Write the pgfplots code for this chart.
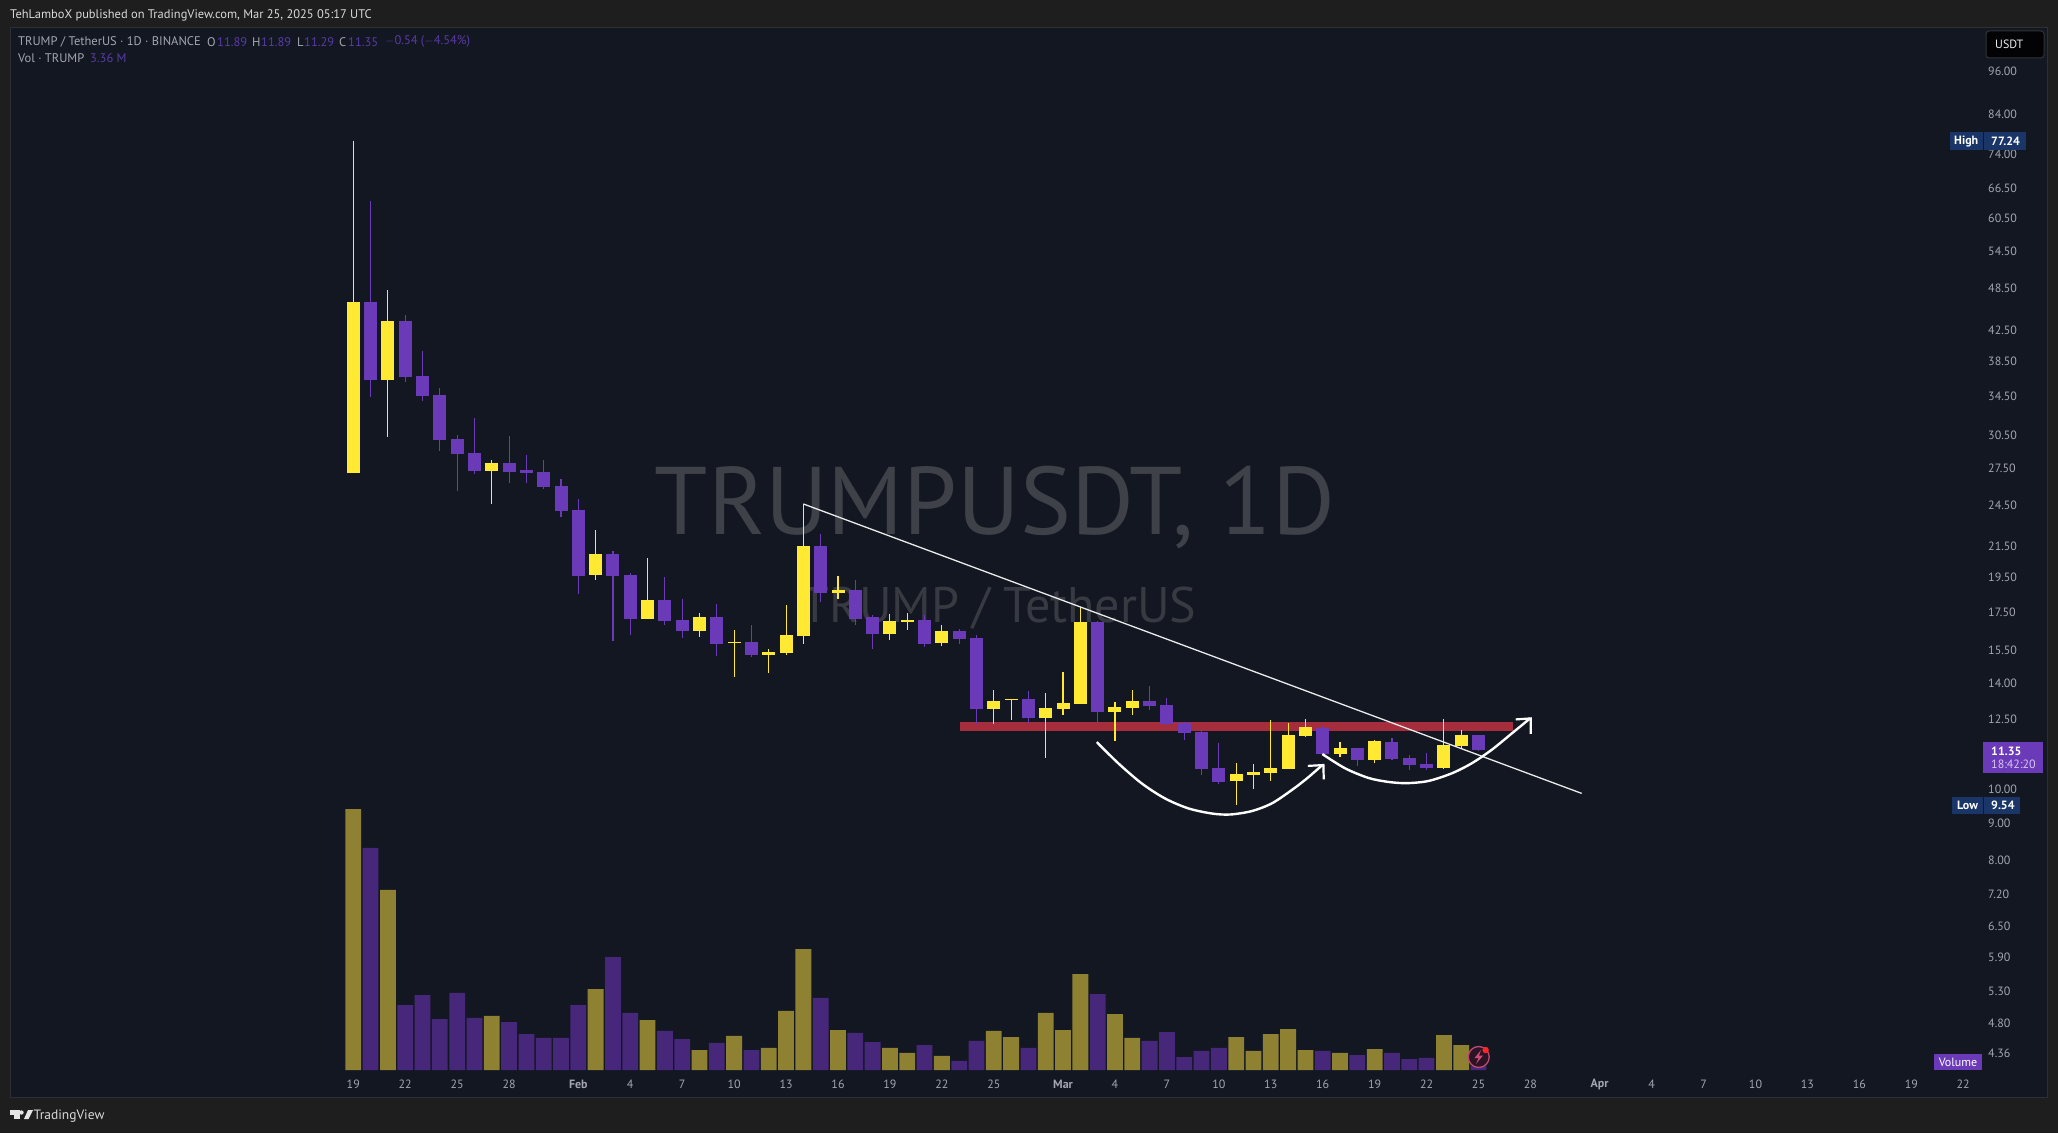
\documentclass[border=0pt]{standalone}
\usepackage{fontspec}
\setmainfont{PT Sans}
\usepackage{pgfplots}
\usepackage{pgfplotstable}
\pgfplotsset{compat=1.18}
\definecolor{outer}{HTML}{1E1E1E}
\definecolor{pane}{HTML}{121722}
\definecolor{edge}{HTML}{2E2F33}
\definecolor{cyel}{HTML}{FFE933}
\definecolor{cpur}{HTML}{6B3AB8}
\definecolor{vyel}{HTML}{8E8132}
\definecolor{vpur}{HTML}{47277A}
\definecolor{band}{HTML}{A52D3C}
\definecolor{tick}{HTML}{A3A6AE}
\definecolor{mark1}{HTML}{3F4148}
\definecolor{mark2}{HTML}{383A42}
\definecolor{legv}{HTML}{5A3AA6}
\definecolor{navy}{HTML}{1A3668}
\definecolor{lilac}{HTML}{D9C4F5}

% d = days after 19 Jan; t/b = body top and bottom, h/l = high and low
\pgfplotstableread{
d t b h l
0 46.48 27.15 77.24 27.15
2 43.77 36.35 48.27 30.41
8 27.99 27.29 28.26 24.62
14 21.01 19.67 22.67 19.36
17 18.18 17.12 20.75 17.12
20 17.23 16.49 17.45 16.18
22 15.93 15.86 16.54 14.28
24 15.43 15.29 15.58 14.46
25 16.28 15.39 17.87 15.31
26 21.55 16.23 24.60 15.83
28 18.76 18.58 19.60 18.24
31 17.02 16.33 17.40 16.03
32 17.07 16.96 17.45 16.54
34 16.49 15.88 16.81 15.73
37 13.23 12.90 13.69 12.31
38 13.31 13.27 13.31 12.44
40 12.94 12.54 13.56 11.05
41 13.14 12.90 14.49 12.66
42 16.96 13.10 17.78 13.10
44 12.98 12.78 13.18 11.66
45 13.23 12.94 13.69 12.66
51 10.51 10.28 10.88 9.54
52 10.57 10.47 10.85 10.02
53 10.71 10.54 12.46 10.28
54 11.88 10.67 12.34 10.67
55 12.18 11.84 12.50 11.81
57 11.41 11.20 11.63 11.09
59 11.66 10.98 11.70 10.88
63 11.52 10.71 12.50 10.67
64 11.88 11.48 12.07 11.41
}\upcandles
\pgfplotstableread{
d t b h l
1 46.48 36.35 63.83 34.43
3 43.77 36.70 44.61 36.12
4 36.81 34.57 39.87 34.03
5 34.68 30.10 35.45 29.04
6 30.20 28.82 30.58 25.65
7 28.89 27.29 32.29 27.06
9 27.99 27.21 30.49 26.31
10 27.38 27.12 28.73 26.31
11 27.21 25.95 28.26 25.81
12 26.03 24.09 26.64 23.61
13 24.14 19.62 24.99 18.53
15 21.01 19.62 21.21 15.96
16 19.67 17.12 19.79 16.27
18 18.18 17.02 19.52 16.79
19 17.07 16.49 18.25 16.13
21 17.23 15.83 17.95 15.25
23 15.93 15.29 16.81 15.21
27 21.55 18.58 22.39 18.07
29 18.76 17.10 19.36 16.81
30 17.23 16.33 17.35 15.58
33 17.07 15.83 17.35 15.69
35 16.49 16.08 16.59 15.83
36 16.13 12.90 16.28 12.31
39 13.31 12.54 13.65 12.34
43 16.96 12.78 17.02 12.34
46 13.23 13.02 13.87 12.86
47 13.06 12.31 13.35 12.27
48 12.34 11.96 12.38 11.70
49 11.99 10.67 12.07 10.47
50 10.71 10.25 11.59 10.18
56 12.15 11.20 12.22 11.20
58 11.41 10.98 11.41 10.78
60 11.63 11.02 11.77 10.98
61 11.05 10.81 11.16 10.64
62 10.85 10.71 11.23 10.64
65 11.89 11.35 11.89 11.29
}\downcandles
% volume, in millions
\pgfplotstableread{
d v
0 219.2
2 151.2
8 45.4
14 68.0
17 42.0
20 16.8
22 28.6
24 18.5
25 49.6
26 101.6
28 33.6
31 18.5
32 14.3
34 11.8
37 32.8
38 27.7
40 47.9
41 33.6
42 80.6
44 47.0
45 26.9
51 27.7
52 16.0
53 30.2
54 34.4
55 16.8
57 14.3
59 17.6
63 29.4
64 21.0
}\upvol
\pgfplotstableread{
d v
1 186.5
3 54.6
4 63.0
5 42.8
6 64.7
7 43.7
9 40.3
10 30.2
11 26.9
12 26.9
13 54.6
15 94.9
16 47.9
18 32.8
19 26.0
21 22.7
23 16.8
27 60.5
29 31.1
30 23.5
33 21.0
35 7.6
36 24.4
39 18.5
43 63.8
46 24.4
47 31.9
48 10.9
49 16.0
50 18.5
56 16.0
58 12.6
60 14.3
61 9.2
62 10.1
65 3.36
}\downvol

\begin{document}
\begin{tikzpicture}[x=1pt,y=1pt]
\path[use as bounding box,fill=outer] (0,0) rectangle (2058,1133);
\fill[pane] (10,36) rectangle (2047,1106);
% watermark
\node[text=mark1,font=\fontsize{96}{96}\selectfont,inner sep=0] at (995,626) {TRUMPUSDT, 1D};
\node[text=mark2,font=\fontsize{50}{50}\selectfont,inner sep=0] at (999,525) {TRUMP / TetherUS};

% volume pane
\begin{axis}[at={(10pt,36pt)},anchor=south west,scale only axis,width=2037pt,height=1070pt,
  xmin=-19.83,xmax=97.84,ymin=-22.68,ymax=876.12,hide axis]
\addplot[ybar,bar width=15.8pt,bar shift=0pt,fill=vyel,draw=none] table[x=d,y=v]{\upvol};
\addplot[ybar,bar width=15.8pt,bar shift=0pt,fill=vpur,draw=none] table[x=d,y=v]{\downvol};
\end{axis}

% price pane
\begin{axis}[at={(10pt,36pt)},anchor=south west,scale only axis,width=2037pt,height=1070pt,
  xmin=-19.83,xmax=97.84,ymode=log,ymin=3.80,ymax=110.5,
  axis line style={draw=edge},
  major tick length=0pt,minor tick length=0pt,
  xtick={0,3,6,9,13,16,19,22,25,28,31,34,37,41,44,47,50,53,56,59,62,65,68,72,75,78,81,84,87,90,93},
  xticklabels={19,22,25,28,\textbf{Feb},4,7,10,13,16,19,22,25,\textbf{Mar},4,7,10,13,16,19,22,25,28,\textbf{Apr},4,7,10,13,16,19,22},
  xticklabel style={anchor=center,yshift=13pt,text=tick,font=\fontsize{12}{12}\selectfont},
  ytick={96,84,74,66.5,60.5,54.5,48.5,42.5,38.5,34.5,30.5,27.5,24.5,21.5,19.5,17.5,15.5,14,12.5,10,9,8,7.2,6.5,5.9,5.3,4.8,4.36},
  yticklabels={96.00,84.00,74.00,66.50,60.50,54.50,48.50,42.50,38.50,34.50,30.50,27.50,24.50,21.50,19.50,17.50,15.50,14.00,12.50,10.00,9.00,8.00,7.20,6.50,5.90,5.30,4.80,4.36},
  yticklabel pos=right,
  yticklabel style={anchor=west,xshift=-59pt,inner sep=0pt,text=tick,font=\fontsize{12}{12}\selectfont},
  wick/.style={draw=none,mark=none,error bars/.cd,y dir=minus,y explicit,error mark=none,
     error bar style={draw=#1,line width=1.1pt}},
  body/.style={draw=none,mark=none,error bars/.cd,y dir=minus,y explicit,error mark=none,
     error bar style={draw=#1,line width=13pt}},
]
\addplot[band,line width=9pt] coordinates {(35.05,12.21)(67.0,12.21)};
\addplot[wick=cyel] table[x=d,y=h,y error minus expr=\thisrow{h}-\thisrow{l}]{\upcandles};
\addplot[wick=cpur] table[x=d,y=h,y error minus expr=\thisrow{h}-\thisrow{l}]{\downcandles};
\addplot[body=cyel] table[x=d,y=t,y error minus expr=\thisrow{t}-\thisrow{b}]{\upcandles};
\addplot[body=cpur] table[x=d,y=t,y error minus expr=\thisrow{t}-\thisrow{b}]{\downcandles};
% drawings
\addplot[white!92!black,line width=1.3pt] coordinates {(26.0,24.60)(70.96,9.886)};
\addplot[white,line width=2.4pt,smooth,tension=0.5] coordinates {(42.95,11.62)(44.19,10.87)(45.55,10.20)(46.89,9.73)(48.24,9.43)(49.59,9.28)(50.65,9.25)(51.90,9.35)(53.06,9.58)(54.21,9.99)(55.08,10.36)(55.98,10.81)};
\addplot[white,line width=2.2pt] coordinates {(55.14,10.78)(56.04,10.81)(56.06,10.33)};
\addplot[white,line width=2.4pt,smooth,tension=0.5] coordinates {(55.98,11.19)(57.29,10.70)(58.64,10.38)(59.79,10.25)(60.85,10.21)(62.10,10.28)(63.45,10.53)(64.61,10.87)(65.76,11.34)(66.92,11.94)(67.98,12.52)};
\addplot[white,line width=2.2pt] coordinates {(67.15,12.48)(68.02,12.52)(68.02,11.92)};
\end{axis}

% header and legend
\node[anchor=west,inner sep=0,text=white!85!black,font=\fontsize{12.45}{13}\selectfont] at (10,1118) {TehLamboX published on TradingView.com, Mar 25, 2025 05:17 UTC};
\begin{scope}[every node/.style={anchor=west,inner sep=0,font=\fontsize{12.5}{13}\selectfont}]
\node[text=tick] at (18,1091.3) {TRUMP / TetherUS · 1D · BINANCE};
\node[text=tick] at (207,1091.3) {O};
\node[text=legv] at (217,1091.3) {11.89};
\node[text=tick] at (252,1091.3) {H};
\node[text=legv] at (261,1091.3) {11.89};
\node[text=tick] at (297,1091.3) {L};
\node[text=legv] at (304,1091.3) {11.29};
\node[text=tick] at (339,1091.3) {C};
\node[text=legv] at (348,1091.3) {11.35};
\node[text=legv] at (385,1091.3) {$-$0.54 ($-$4.54\%)};
\node[text=tick] at (18,1074.5) {Vol · TRUMP};
\node[text=legv] at (90,1074.5) {3.36 M};
\end{scope}

% price scale badges
\filldraw[fill=black!85!pane,draw=white!20!black,line width=1pt,rounded corners=3pt] (1986,1102) rectangle (2044,1075);
\node[anchor=west,inner sep=0,text=white!92!black,font=\fontsize{12}{12}\selectfont] at (1995,1088.5) {USDT};

\fill[navy] (1950,983) rectangle (2026,1000.5);
\draw[pane] (1982.7,983) -- (1982.7,1000.5);
\node[anchor=west,inner sep=0,text=white,font=\fontsize{12}{12}\selectfont\bfseries] at (1954,991.5) {High};
\node[anchor=west,inner sep=0,text=white,font=\fontsize{12}{12}\selectfont\bfseries] at (1991,991.5) {77.24};

\fill[navy] (1951.7,319) rectangle (2020,336);
\draw[pane] (1982.7,319) -- (1982.7,336);
\node[anchor=west,inner sep=0,text=white,font=\fontsize{12}{12}\selectfont\bfseries] at (1957,327.5) {Low};
\node[anchor=west,inner sep=0,text=white,font=\fontsize{12}{12}\selectfont\bfseries] at (1991,327.5) {9.54};

\fill[cpur] (1983,360.3) rectangle (2043,391);
\node[anchor=west,inner sep=0,text=white,font=\fontsize{12}{12}\selectfont\bfseries] at (1991,382) {11.35};
\node[anchor=west,inner sep=0,text=lilac,font=\fontsize{12}{12}\selectfont] at (1991,369) {18:42:20};

\fill[cpur] (1934,63) rectangle (1982,79);
\node[inner sep=0,text=white,font=\fontsize{12}{12}\selectfont] at (1958,71) {Volume};

% bolt icon
\filldraw[fill=pane!85!purple,draw=black!15!purple!70!white,line width=1.3pt] (1478.7,76) circle (10.5);
\fill[black!5!purple!70!white] (1481,83) -- (1474.5,75) -- (1478.5,75) -- (1476,69) -- (1483,77.5) -- (1479,77.5) -- cycle;
\fill[red!85!white] (1485.6,83) circle (3.2);

% logo
\fill[white!90!black] (10,23) rectangle (20,18.5);
\fill[white!90!black] (14,23) rectangle (20,14);
\fill[white!90!black] (21.5,20.5) circle (2.2);
\fill[white!90!black] (24,14) -- (28.5,14) -- (33,23) -- (28,23) -- cycle;
\node[anchor=west,inner sep=0,text=white!85!black,font=\fontsize{13.5}{14}\selectfont] at (33.5,16.5) {TradingView};
\end{tikzpicture}
\end{document}
